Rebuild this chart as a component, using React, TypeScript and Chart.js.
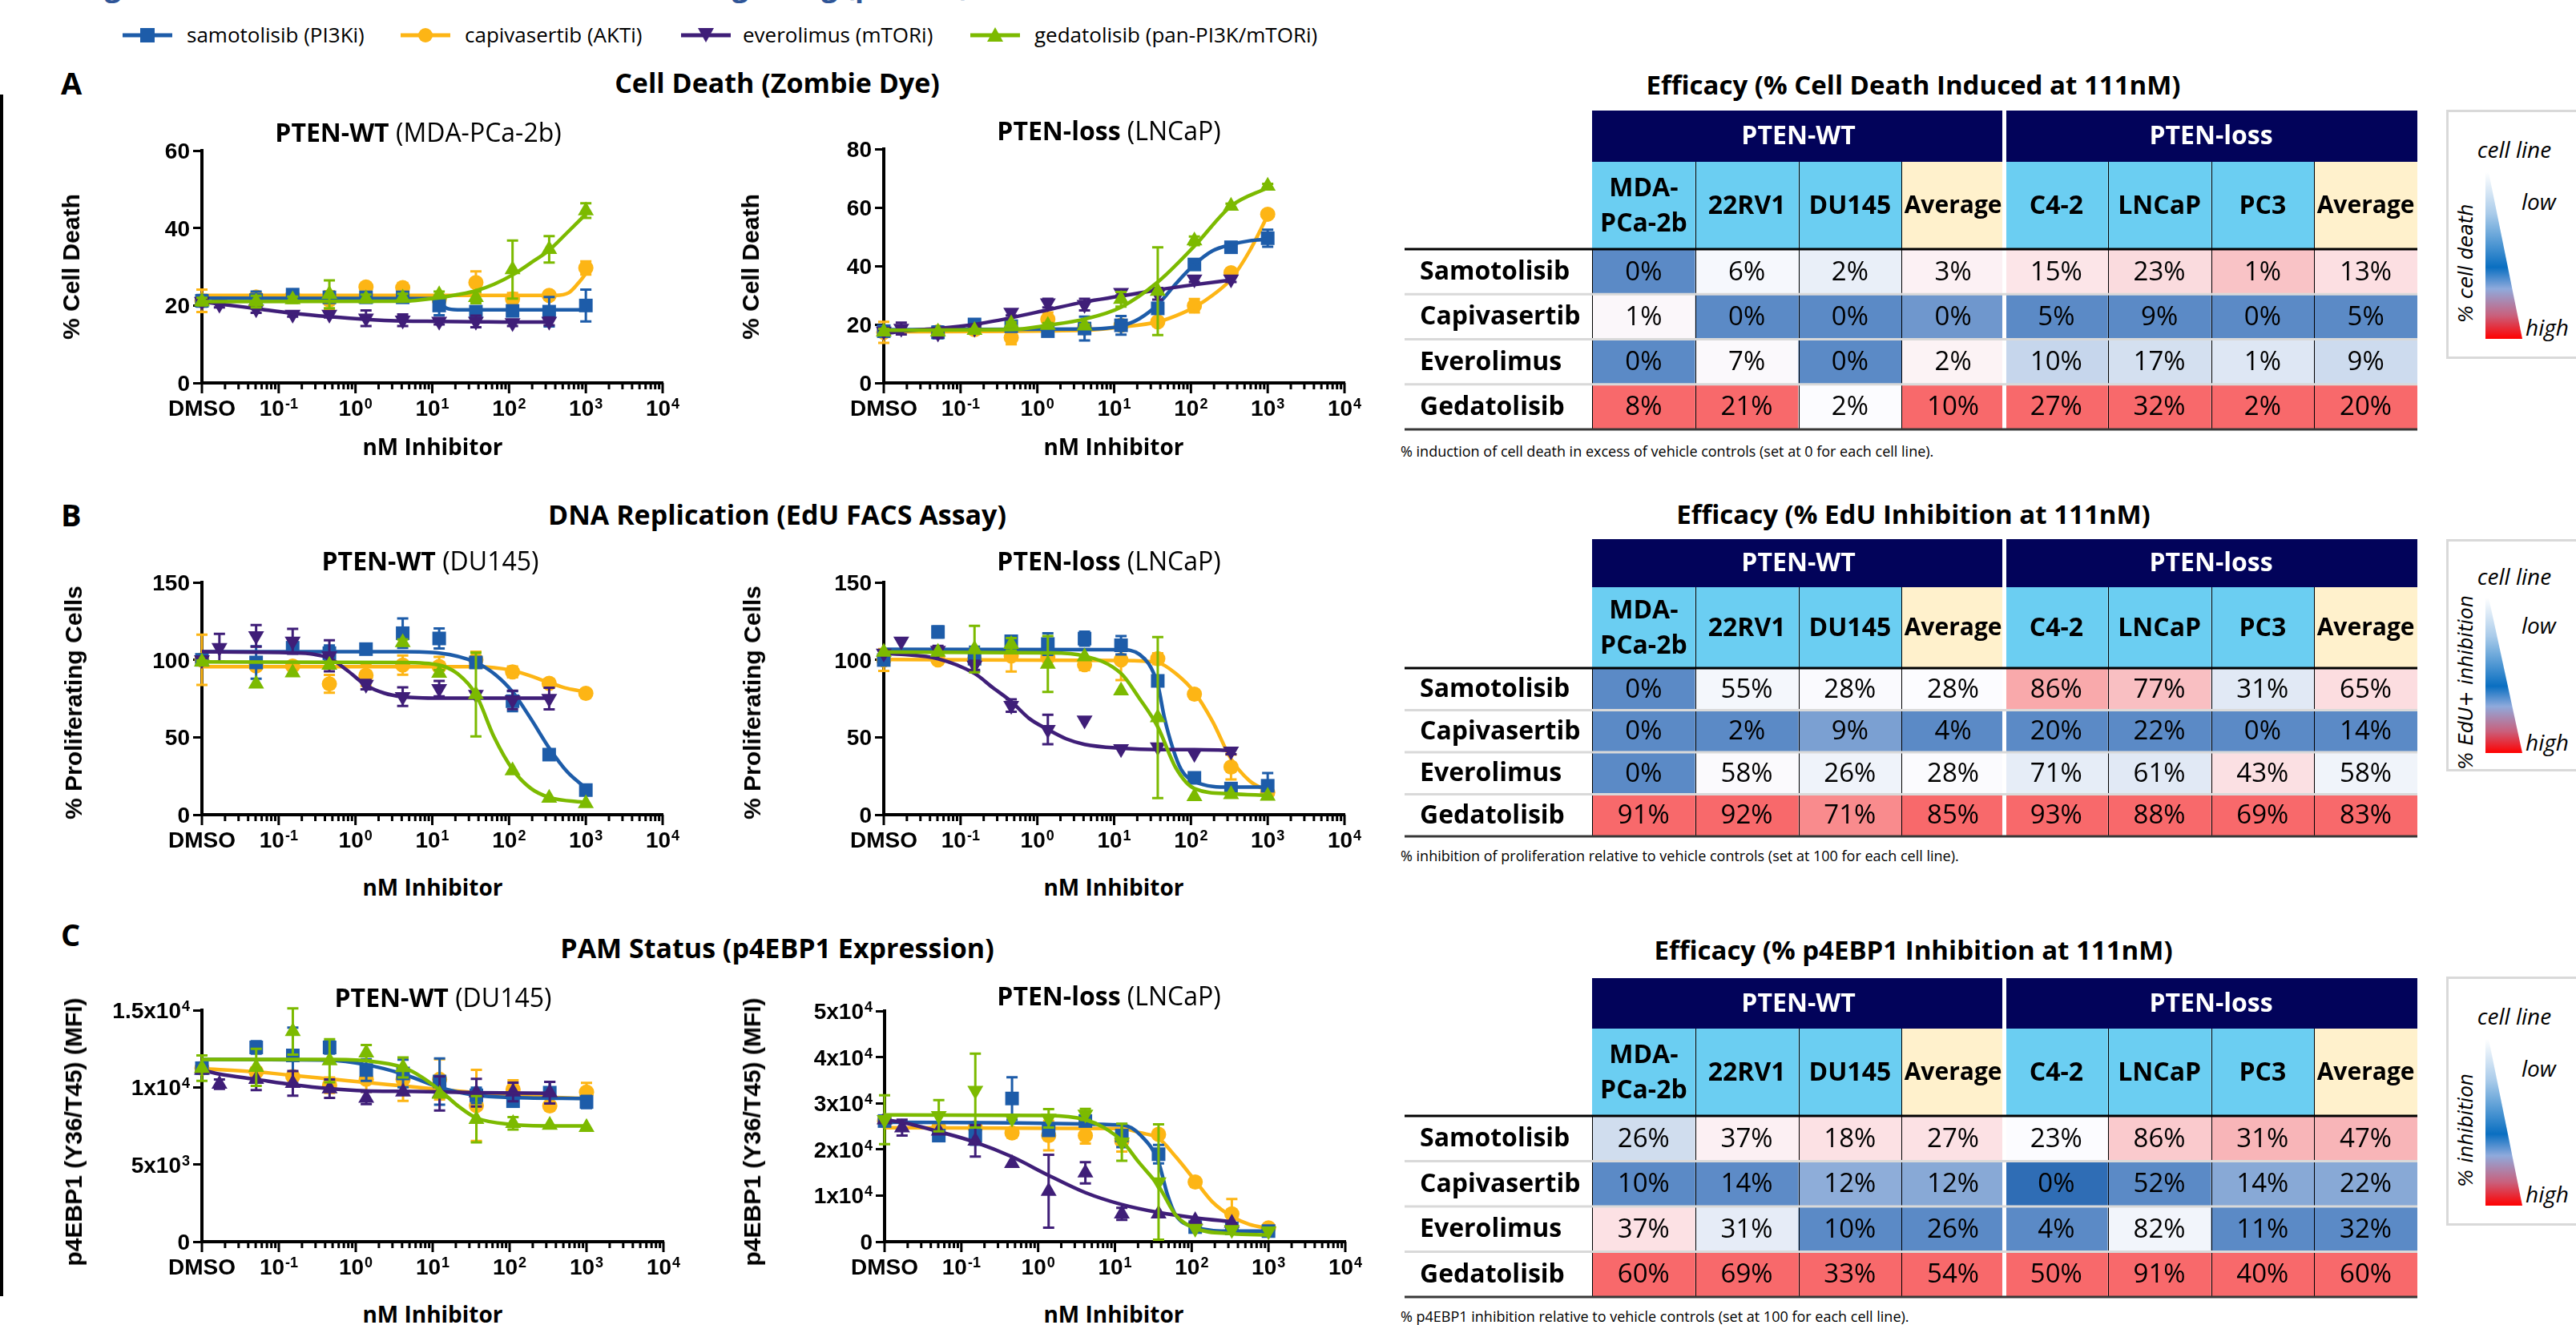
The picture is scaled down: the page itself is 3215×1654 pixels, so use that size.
import React, { useEffect, useRef } from 'react';
import { Chart, registerables } from 'chart.js';
Chart.register(...registerables);

// ---------------- data ----------------
// doses in nM; the first entry is the vehicle (DMSO) plotted at the axis origin (10^-2)
const DOSES = [0.01, 0.0169, 0.0508, 0.152, 0.457, 1.37, 4.12, 12.3, 37, 111, 333, 1000];
const DRUG_LABELS = ['samotolisib (PI3Ki)', 'capivasertib (AKTi)', 'everolimus (mTORi)', 'gedatolisib (pan-PI3K/mTORi)'];
const X_TICK_VALUES = [0.01, 0.1, 1, 10, 100, 1000, 10000];
const X_TICK_LABELS = [['DMSO', ''], ['10', '-1'], ['10', '0'], ['10', '1'], ['10', '2'], ['10', '3'], ['10', '4']];

// order of inner arrays: samotolisib, capivasertib, everolimus, gedatolisib
const A1_MEANS = [
  [21.2, null, 21.4, 22.8, 22.1, 22.1, 22.1, 20.0, 18.4, 18.6, 18.4, 20.0],
  [21.2, null, 22.2, 22.5, 21.4, 24.8, 24.6, 21.5, 25.9, 21.7, 22.6, 29.7],
  [21.0, 20.3, 19.1, 17.7, 17.7, 16.7, 16.2, 15.9, 15.9, 15.5, 15.9, null],
  [21.0, null, 21.0, 21.5, 22.9, 21.8, 22.0, 22.8, 22.1, 29.3, 34.5, 44.5],
];
const A1_ERRS = [
  [1.5, null, 2.2, 1.0, 1.2, 1.2, 1.0, 2.5, 1.2, 1.2, 3.8, 4.1],
  [2.9, null, 0.8, 0.8, 2.3, 0.8, 1.2, 0.8, 2.9, 1.5, 0.5, 1.7],
  [0.5, 0.8, 1.0, 0.6, 0.8, 2.0, 1.5, 0.8, 1.5, 0.8, 1.0, null],
  [1.0, null, 1.5, 0.8, 3.6, 1.0, 1.0, 0.8, 1.5, 7.5, 3.4, 1.9],
];
const A1_CURVES = [
  [[0.01, 21.9], [10, 21.8], [12.3, 21.2], [15, 19.4], [21.4, 18.9], [1000, 18.9]],
  [[0.01, 22.6], [400, 22.6], [600, 23.3], [800, 25.8], [1000, 28.2]],
  [[0.01, 21.0], [0.0169, 20.4], [0.0508, 19.2], [0.152, 18.0], [0.457, 17.1], [1.37, 16.4], [4.12, 16.0], [12.3, 15.9], [37, 15.8], [111, 15.7], [333, 15.7]],
  [[0.01, 21.0], [4.12, 21.1], [12.3, 22.0], [21.4, 22.8], [37, 23.8], [64, 25.5], [111, 27.9], [192, 31.0], [333, 34.3], [577, 38.9], [1000, 43.6]],
];

const A2_MEANS = [
  [17.7, null, 17.3, 20.0, 19.4, 17.7, 18.6, 19.7, 25.5, 40.5, 46.4, 49.5],
  [17.3, null, 17.5, 18.2, 15.5, 21.8, 18.8, 19.7, 20.9, 26.4, 37.7, 57.7],
  [17.7, 18.6, 17.0, 18.6, 24.1, 27.3, 26.8, 30.9, 30.5, 35.5, 35.5, null],
  [17.5, null, 17.5, 18.0, 20.3, 19.7, 19.5, 28.6, 31.4, 48.6, 60.5, 67.3],
];
const A2_ERRS = [
  [1.0, null, 2.0, 1.0, 1.0, 1.0, 4.1, 3.2, 1.5, 1.0, 1.0, 2.9],
  [3.6, null, null, null, 2.3, 2.3, 0.8, 1.0, 0.8, 2.3, 0.8, 0.8],
  [0.8, 2.0, 1.5, 0.8, 1.0, 1.5, 2.0, 1.0, 2.0, 1.0, 1.0, null],
  [1.0, null, 0.5, 0.5, 0.5, 0.8, 0.5, 2.5, 15.0, 1.5, 0.8, 0.8],
];
const A2_CURVES = [
  [[0.01, 18.2], [4.12, 18.4], [12.3, 19.5], [21.4, 22.0], [37, 26.8], [64, 34.0], [111, 40.5], [192, 45.2], [333, 47.3], [577, 48.6], [1000, 49.1]],
  [[0.01, 17.5], [4.12, 18.0], [12.3, 19.1], [37, 20.9], [64, 23.0], [111, 25.9], [192, 30.0], [333, 35.5], [577, 45.0], [1000, 57.3]],
  [[0.01, 16.8], [0.0169, 17.7], [0.0508, 18.6], [0.152, 20.0], [0.457, 22.3], [1.37, 25.0], [4.12, 27.7], [12.3, 29.7], [37, 31.8], [111, 33.6], [333, 35.2]],
  [[0.01, 18.0], [0.457, 18.2], [1.37, 19.7], [4.12, 21.8], [12.3, 25.9], [37, 34.5], [111, 46.8], [333, 60.5], [1000, 66.8]],
];

const B1_MEANS = [
  [100, null, 98.3, 107.8, 104.3, 106.9, 117.2, 113.8, 98.3, 73.3, 38.8, 15.9],
  [100, null, 96.0, 96.0, 84.5, 90.0, 96.6, 95.7, 100, 92.2, 84.8, 78.4],
  [100, 107.8, 115.5, 112, 102.6, 84, 76.2, 81.4, 77.6, 74.1, 75.0, null],
  [98.6, null, 84.5, 91.7, 96.6, null, 111.2, 91.4, 77.6, 28.4, 10.7, 7.2],
];
const B1_ERRS = [
  [2, null, 10.5, 3, 5, 3, 9.5, 6.5, 3, 6.5, 2, 2],
  [16.2, null, null, null, 5.8, 6.9, 6.2, 6.2, 5.2, 3.5, 1, 1],
  [null, 9, 7, 8, 10, 3, 6, 5, 2, 6, 7, null],
  [1, null, null, null, null, null, 2, 2, 27, null, null, null],
];
const B1_CURVES = [
  [[0.01, 105.2], [4.12, 105.2], [12.3, 104.3], [37, 98.3], [64, 91], [111, 79.3], [192, 62], [333, 43.1], [577, 27.5], [1000, 17.2]],
  [[0.01, 95.5], [37, 95.5], [111, 93.1], [192, 89.5], [333, 85.3], [577, 81.5], [1000, 79.3]],
  [[0.01, 105.2], [0.152, 104.5], [0.457, 101], [0.79, 93], [1.37, 83.6], [2.37, 78.5], [4.12, 76.2], [12.3, 75.3], [333, 75.3]],
  [[0.01, 98.6], [4.12, 98.3], [12.3, 96.6], [21.4, 91], [37, 77.6], [64, 50], [111, 29.3], [192, 17], [333, 11.2], [1000, 7.8]],
];

const B2_MEANS = [
  [99.9, null, 118, 100.7, 112, 110.2, 113.7, 109.4, 86.4, 23.8, 16.9, 18.7],
  [99.9, null, 100, 100, 102.5, 101.6, 96.8, 99.9, 100.7, 77.8, 30.8, 14.3],
  [104.2, 112, 106, 96.5, 70.5, 55.0, 61.0, 42.5, 43.7, 39.4, 41.0, null],
  [105, null, 105, 107, 110, 97.3, 102, 80, 62.7, 11.8, 13, 12],
];
const B2_ERRS = [
  [1.5, null, 3.5, 7.8, 3, 7, 4.5, 6, 2, 2, 2, 8.2],
  [7, null, null, null, 10, 5, 3.5, 13, 3.5, 1, 8, 1],
  [null, null, 3, 3, 4, 9.5, null, null, null, null, 2, null],
  [null, null, null, 15, 4, 18, null, null, 52, null, null, null],
];
const B2_CURVES = [
  [[0.01, 106.8], [12.3, 106.5], [21.4, 103.5], [37, 84], [45, 63], [58, 43], [75, 29], [111, 21.5], [333, 17.8], [1000, 17.8]],
  [[0.01, 100.2], [12.3, 99.6], [37, 98.2], [64, 91], [111, 79.1], [192, 60.1], [333, 36], [577, 22], [1000, 15.2]],
  [[0.01, 104.2], [0.0169, 103.6], [0.0508, 100.7], [0.152, 91.2], [0.264, 82], [0.457, 73.1], [0.79, 62], [1.37, 55], [2.37, 49], [4.12, 45.4], [12.3, 42.9], [37, 42], [111, 42], [333, 41.5]],
  [[0.01, 105], [1.37, 104.5], [4.12, 102.5], [12.3, 91.2], [21.4, 75], [37, 56.7], [64, 30], [111, 16.9], [333, 13.5], [1000, 12.6]],
];

const C1_MEANS = [
  [11241, null, 12586, 12068, 12586, 11120, 10900, 10379, 9482, 9103, 9655, 9051],
  [11241, null, 11000, 10700, 10138, 10517, 10517, 10517, 8827, 9862, 8793, 9689],
  [11120, 10206, 10517, 10258, 9913, 9310, 9700, 9600, 9655, 9700, 9655, null],
  [11241, null, 11300, 13620, 11724, 12241, 11292, 9569, 7931, 7672, 7551, 7413],
];
const C1_ERRS = [
  [300, null, 400, 1800, 400, 700, 900, 1500, 500, 300, 700, 400],
  [200, null, null, null, 500, 800, 1400, 1300, 2300, 600, 200, 600],
  [null, 300, 700, 800, 600, 400, null, 1100, 900, 600, 700, null],
  [820, null, 1200, 1500, 1400, 500, 650, null, 1500, 400, null, null],
];
const C1_CURVES = [
  [[0.01, 11810], [0.457, 11760], [1.37, 11465], [4.12, 10862], [12.3, 10000], [37, 9482], [111, 9344], [1000, 9275]],
  [[0.01, 11206], [0.0508, 11000], [0.152, 10775], [0.457, 10550], [1.37, 10310], [4.12, 10090], [12.3, 9862], [37, 9655], [111, 9482], [333, 9360], [1000, 9275]],
  [[0.01, 11120], [0.0169, 10862], [0.0508, 10517], [0.152, 10172], [0.457, 9913], [1.37, 9775], [4.12, 9741], [12.3, 9707], [37, 9655], [333, 9620]],
  [[0.01, 11810], [0.457, 11810], [1.37, 11724], [4.12, 11292], [7.1, 10690], [12.3, 9827], [21.4, 8790], [37, 8017], [111, 7586], [333, 7500], [1000, 7500]],
];

const C2_MEANS = [
  [26149, null, 22988, 22988, 31034, 24137, 26149, 22988, 18965, 3161, 2874, 2299],
  [26149, null, 24700, 24700, 23563, 22988, 22988, 21839, 23276, 12931, 6034, 2989],
  [26437, 24712, 24000, 21839, 16954, 10919, 14942, 6034, 6034, 4598, 4023, null],
  [26437, null, 27299, 32758, 26724, 26724, 27586, 21551, 12931, 2874, 2600, 2299],
];
const C2_ERRS = [
  [800, null, 500, 2000, 4600, 1000, 1000, 2500, 2000, 500, 500, 500],
  [null, null, null, null, 1000, 3200, 1700, 2300, null, null, 3200, null],
  [null, 1700, null, 3400, null, 7900, 2300, 1300, null, null, null, null],
  [5300, null, 3400, 8000, null, 2000, 1200, 4000, 12500, null, null, null],
];
const C2_CURVES = [
  [[0.01, 25862], [12.3, 25287], [21.8, 23000], [37, 17241], [48, 10345], [62, 5747], [111, 3161], [333, 2300], [1000, 2300]],
  [[0.01, 24712], [12.3, 24540], [21.8, 23563], [37, 22413], [62, 18390], [111, 13218], [186, 8620], [333, 5460], [562, 3736], [1000, 2874]],
  [[0.01, 26437], [0.0169, 25862], [0.0508, 23850], [0.152, 21551], [0.457, 18390], [1.37, 14367], [4.12, 10632], [12.3, 8046], [37, 6322], [111, 5172], [333, 4310]],
  [[0.01, 27471], [1.37, 27356], [4.12, 26437], [7.2, 24712], [12.3, 21839], [20.4, 17241], [37, 12069], [62, 5747], [111, 2874], [333, 1724], [1000, 1437]],
];

const A1_YLABELS = [['0', ''], ['20', ''], ['40', ''], ['60', '']];
const A2_YLABELS = [['0', ''], ['20', ''], ['40', ''], ['60', ''], ['80', '']];
const B_YLABELS = [['0', ''], ['50', ''], ['100', ''], ['150', '']];
const C1_YLABELS = [['0', ''], ['5x10', '3'], ['1x10', '4'], ['1.5x10', '4']];
const C2_YLABELS = [['0', ''], ['1x10', '4'], ['2x10', '4'], ['3x10', '4'], ['4x10', '4'], ['5x10', '4']];

// tables
const TABLE_GROUPS = ['PTEN-WT', 'PTEN-loss'];
const TABLE_COLS = [['MDA-', 'PCa-2b'], ['22RV1'], ['DU145'], ['Average'], ['C4-2'], ['LNCaP'], ['PC3'], ['Average']];
const TABLE_ROWS = ['Samotolisib', 'Capivasertib', 'Everolimus', 'Gedatolisib'];
const DEATH_VALUES = [[0, 6, 2, 3, 15, 23, 1, 13], [1, 0, 0, 0, 5, 9, 0, 5], [0, 7, 0, 2, 10, 17, 1, 9], [8, 21, 2, 10, 27, 32, 2, 20]];
const EDU_VALUES = [[0, 55, 28, 28, 86, 77, 31, 65], [0, 2, 9, 4, 20, 22, 0, 14], [0, 58, 26, 28, 71, 61, 43, 58], [91, 92, 71, 85, 93, 88, 69, 83]];
const P4EBP1_VALUES = [[26, 37, 18, 27, 23, 86, 31, 47], [10, 14, 12, 12, 0, 52, 14, 22], [37, 31, 10, 26, 4, 82, 11, 32], [60, 69, 33, 54, 50, 91, 40, 60]];

// ---------------- styles ----------------
const OPEN = "'Open Sans', 'Noto Sans', sans-serif";
const ARIAL = "'Liberation Sans', Arial, sans-serif";
const COLORS = ['#1D5CA9', '#FDB515', '#3F1E78', '#7CBA00'];
const DRAW_ORDER = [3, 2, 0, 1];
const SH_RECT = { style: 'rect', rot: 0, r: 12 };
const SH_CIRC = { style: 'circle', rot: 0, r: 9.5 };
const SH_DOWN = { style: 'triangle', rot: 180, r: 11.5 };
const SH_UP = { style: 'triangle', rot: 0, r: 11.5 };
const SHAPES_AB = [SH_RECT, SH_CIRC, SH_DOWN, SH_UP];
const SHAPES_C1 = [SH_RECT, SH_CIRC, SH_UP, SH_UP];
const SHAPES_C2 = [SH_RECT, SH_CIRC, SH_UP, SH_DOWN];

const NAVY = '#02035A';
const LIGHT_BLUE = '#6BCEF2';
const CREAM = '#FFF1CC';
const BL = '#5B8AC6';
const RD = '#F8696B';
const DEATH_COLORS = [
  [BL, '#F6F8FD', '#E9EFF8', '#FCF1F4', '#FCE5E8', '#FADBDE', '#F9C3C6', '#FCDFE2'],
  ['#FBF7FA', BL, BL, '#6F97CD', BL, BL, BL, BL],
  [BL, '#FBF9FC', BL, '#FCF3F5', '#C6D6EC', '#D4E0F0', '#DEE7F4', '#CDDBEE'],
  [RD, RD, '#FCFCFF', RD, RD, RD, RD, RD],
];
const EDU_COLORS = [
  [BL, '#F4F7FC', '#FAFAFE', '#FCFCFF', '#F9A9AB', '#F9BFC2', '#E1E9F5', '#FCDDE0'],
  [BL, BL, '#7BA0D2', BL, BL, BL, BL, BL],
  [BL, '#FBFAFD', '#EFF3FA', '#FBFBFE', '#E6EDF7', '#E1E9F5', '#FBE0E3', '#F0F4FA'],
  [RD, RD, '#F98B8D', RD, RD, RD, RD, RD],
];
const P4_COLORS = [
  ['#D0DDEE', '#FCF0F3', '#FCE1E4', '#FCE1E4', '#FCFCFF', '#FACACD', '#F8B5B8', '#F8B5B8'],
  [BL, '#5D8BC7', '#8EADD9', '#88A9D6', '#2F6DB5', BL, '#88A9D6', '#88A9D6'],
  ['#FCE1E4', '#E6ECF7', BL, BL, BL, '#F2F5FB', BL, BL],
  [RD, RD, RD, RD, RD, RD, RD, RD],
];

const PANELS = [
  { L: 100, T: 140, W: 770, H: 400, pl: 252, pr: 827, pt: 188, pb: 478, yMax: 60, yStep: 20, yLabels: A1_YLABELS, means: A1_MEANS, errs: A1_ERRS, curves: A1_CURVES, shapes: SHAPES_AB,
    title: ['PTEN-WT', '(MDA-PCa-2b)'], tx: 522, ty: 165, yTitle: '% Cell Death', ytx: 89, yty: 333, nx: 540, ny: 557 },
  { L: 950, T: 140, W: 770, H: 400, pl: 1103, pr: 1678, pt: 186, pb: 478, yMax: 80, yStep: 20, yLabels: A2_YLABELS, means: A2_MEANS, errs: A2_ERRS, curves: A2_CURVES, shapes: SHAPES_AB,
    title: ['PTEN-loss', '(LNCaP)'], tx: 1384, ty: 163, yTitle: '% Cell Death', ytx: 937, yty: 333, nx: 1390, ny: 557 },
  { L: 100, T: 680, W: 770, H: 385, pl: 252, pr: 827, pt: 727, pb: 1017, yMax: 150, yStep: 50, yLabels: B_YLABELS, means: B1_MEANS, errs: B1_ERRS, curves: B1_CURVES, shapes: SHAPES_AB,
    title: ['PTEN-WT', '(DU145)'], tx: 537, ty: 700, yTitle: '% Proliferating Cells', ytx: 92, yty: 877, nx: 540, ny: 1107 },
  { L: 950, T: 680, W: 770, H: 385, pl: 1103, pr: 1678, pt: 727, pb: 1017, yMax: 150, yStep: 50, yLabels: B_YLABELS, means: B2_MEANS, errs: B2_ERRS, curves: B2_CURVES, shapes: SHAPES_AB,
    title: ['PTEN-loss', '(LNCaP)'], tx: 1384, ty: 700, yTitle: '% Proliferating Cells', ytx: 939, yty: 877, nx: 1390, ny: 1107 },
  { L: 100, T: 1213, W: 770, H: 390, pl: 252, pr: 828, pt: 1261, pb: 1550, yMax: 15000, yStep: 5000, yLabels: C1_YLABELS, means: C1_MEANS, errs: C1_ERRS, curves: C1_CURVES, shapes: SHAPES_C1,
    title: ['PTEN-WT', '(DU145)'], tx: 553, ty: 1245, yTitle: 'p4EBP1 (Y36/T45) (MFI)', ytx: 92, yty: 1413, nx: 540, ny: 1640 },
  { L: 950, T: 1213, W: 770, H: 390, pl: 1104, pr: 1679, pt: 1262, pb: 1550, yMax: 50000, yStep: 10000, yLabels: C2_YLABELS, means: C2_MEANS, errs: C2_ERRS, curves: C2_CURVES, shapes: SHAPES_C2,
    title: ['PTEN-loss', '(LNCaP)'], tx: 1384, ty: 1243, yTitle: 'p4EBP1 (Y36/T45) (MFI)', ytx: 939, yty: 1413, nx: 1390, ny: 1640 },
];

const TABLES = [
  { values: DEATH_VALUES, colors: DEATH_COLORS, navyTop: 138, subTop: 202, dataTop: 311, dataBottom: 536, title: 'Efficacy (% Cell Death Induced at 111nM)', titleY: 105,
    note: '% induction of cell death in excess of vehicle controls (set at 0 for each cell line).', noteY: 563,
    legTop: 137, legH: 311, legLabel: '% cell death' },
  { values: EDU_VALUES, colors: EDU_COLORS, navyTop: 673, subTop: 733, dataTop: 834, dataBottom: 1044, title: 'Efficacy (% EdU Inhibition at 111nM)', titleY: 641,
    note: '% inhibition of proliferation relative to vehicle controls (set at 100 for each cell line).', noteY: 1068,
    legTop: 673, legH: 290, legLabel: '% EdU+ inhibition' },
  { values: P4EBP1_VALUES, colors: P4_COLORS, navyTop: 1221, subTop: 1284, dataTop: 1393, dataBottom: 1619, title: 'Efficacy (% p4EBP1 Inhibition at 111nM)', titleY: 1185,
    note: '% p4EBP1 inhibition relative to vehicle controls (set at 100 for each cell line).', noteY: 1643,
    legTop: 1219, legH: 311, legLabel: '% inhibition' },
];

// ---------------- helpers ----------------
const MAIN_FONT = `bold 28px ${ARIAL}`;
const SUP_FONT = `bold 18px ${ARIAL}`;

function drawSupLabel(ctx: any, main: string, sup: string, x: number, baseline: number, align: string) {
  ctx.font = MAIN_FONT;
  const w1 = ctx.measureText(main).width;
  ctx.font = SUP_FONT;
  const w2 = sup ? ctx.measureText(sup).width + 1 : 0;
  const total = w1 + w2;
  const x0 = align === 'center' ? x - total / 2 : x - total;
  ctx.textAlign = 'left';
  ctx.textBaseline = 'alphabetic';
  ctx.fillStyle = '#000';
  ctx.font = MAIN_FONT;
  ctx.fillText(main, x0, baseline);
  if (sup) {
    ctx.font = SUP_FONT;
    ctx.fillText(sup, x0 + w1 + 1, baseline - 9);
  }
}

function makeAxisPlugin(p: any) {
  return {
    id: 'doseAxes',
    afterDraw(chart: any) {
      const ctx = chart.ctx;
      const xs = chart.scales.x;
      const ys = chart.scales.y;
      const ca = chart.chartArea;
      ctx.save();
      ctx.strokeStyle = '#000';
      ctx.lineWidth = 3;
      for (let k = -2; k <= 3; k++) {
        for (let m = 1; m <= 9; m++) {
          const px = xs.getPixelForValue(m * Math.pow(10, k));
          const len = m === 1 ? 13 : 8;
          ctx.beginPath();
          ctx.moveTo(px, ca.bottom);
          ctx.lineTo(px, ca.bottom + len);
          ctx.stroke();
        }
      }
      const pend = xs.getPixelForValue(10000);
      ctx.beginPath();
      ctx.moveTo(pend, ca.bottom);
      ctx.lineTo(pend, ca.bottom + 13);
      ctx.stroke();
      X_TICK_VALUES.forEach((v, i) => {
        const px = xs.getPixelForValue(v);
        drawSupLabel(ctx, X_TICK_LABELS[i][0], X_TICK_LABELS[i][1], px, ca.bottom + 41, 'center');
      });
      ys.ticks.forEach((t: any, i: number) => {
        const lab = p.yLabels[i];
        if (!lab) return;
        const py = ys.getPixelForValue(t.value);
        drawSupLabel(ctx, lab[0], lab[1], ca.left - 15, py + 10, 'right');
      });
      ctx.restore();
    },
  };
}

const errorBarPlugin = {
  id: 'errorBars',
  beforeDatasetDraw(chart: any, args: any) {
    const ds = chart.data.datasets[args.index];
    if (!ds.errors) return;
    const meta = chart.getDatasetMeta(args.index);
    const ys = chart.scales.y;
    const ctx = chart.ctx;
    ctx.save();
    ctx.strokeStyle = ds.borderColor;
    ctx.lineWidth = 3;
    meta.data.forEach((el: any, i: number) => {
      const e = ds.errors[i];
      if (!e) return;
      const v = ds.data[i].y;
      const y1 = ys.getPixelForValue(v + e);
      const y2 = ys.getPixelForValue(Math.max(v - e, 0));
      const x = el.x;
      ctx.beginPath();
      ctx.moveTo(x, y1); ctx.lineTo(x, y2);
      ctx.moveTo(x - 7, y1); ctx.lineTo(x + 7, y1);
      ctx.moveTo(x - 7, y2); ctx.lineTo(x + 7, y2);
      ctx.stroke();
    });
    ctx.restore();
  },
};

function DoseChart({ p }: any) {
  const ref = useRef<HTMLCanvasElement>(null);
  useEffect(() => {
    const datasets: any[] = [];
    DRAW_ORDER.forEach((d) => {
      datasets.push({
        data: p.curves[d].map((c: number[]) => ({ x: c[0], y: c[1] })),
        showLine: true,
        borderColor: COLORS[d],
        borderWidth: 4.5,
        pointRadius: 0,
        cubicInterpolationMode: 'monotone',
        fill: false,
        clip: false,
      });
      const pts: any[] = [];
      const errs: any[] = [];
      DOSES.forEach((x, i) => {
        const m = p.means[d][i];
        if (m !== null && m !== undefined) {
          pts.push({ x, y: m });
          errs.push(p.errs[d][i]);
        }
      });
      const sh = p.shapes[d];
      datasets.push({
        data: pts,
        errors: errs,
        showLine: false,
        pointStyle: sh.style,
        rotation: sh.rot,
        pointRadius: sh.r,
        backgroundColor: COLORS[d],
        borderColor: COLORS[d],
        borderWidth: 0,
        clip: false,
      });
    });
    const chart = new Chart(ref.current as any, {
      type: 'scatter',
      data: { datasets },
      options: {
        responsive: false,
        animation: false,
        events: [],
        layout: { padding: { top: p.pt - p.T, right: p.L + p.W - p.pr, left: 0, bottom: 0 } },
        plugins: { legend: { display: false }, tooltip: { enabled: false } },
        scales: {
          x: {
            type: 'logarithmic', min: 0.01, max: 10000,
            ticks: { display: false },
            grid: { display: false },
            border: { display: true, width: 4, color: '#000' },
            afterFit: (s: any) => { s.height = p.T + p.H - p.pb; },
          },
          y: {
            type: 'linear', min: 0, max: p.yMax,
            ticks: { display: false, stepSize: p.yStep },
            grid: { display: true, drawOnChartArea: false, drawTicks: true, tickLength: 11, tickWidth: 3, color: '#000' },
            border: { display: true, width: 4, color: '#000' },
            afterFit: (s: any) => { s.width = p.pl - p.L; },
          },
        },
      } as any,
      plugins: [errorBarPlugin, makeAxisPlugin(p)],
    });
    return () => chart.destroy();
  }, []);
  return <canvas ref={ref} width={p.W} height={p.H} style={{ position: 'absolute', left: p.L, top: p.T, width: p.W, height: p.H }} />;
}

const TBL_LEFT = 1745;
const TBL_RIGHT = 3030;

function makeTablePlugin(t: any, cTop: number) {
  return {
    id: 'tableDraw',
    beforeDatasetsDraw(chart: any) {
      const ctx = chart.ctx;
      const xs = chart.scales.x;
      const ys = chart.scales.y;
      const ca = chart.chartArea;
      const cw = xs.getPixelForValue(1) - xs.getPixelForValue(0);
      const rh = ys.getPixelForValue(1) - ys.getPixelForValue(0);
      const colL = (c: number) => xs.getPixelForValue(c) - cw / 2;
      const rowT = (r: number) => ys.getPixelForValue(r) - rh / 2;
      const navyTop = t.navyTop - cTop;
      const subTop = t.subTop - cTop;
      ctx.save();
      chart.data.datasets.forEach((ds: any) => {
        ds.data.forEach((pt: any, c: number) => {
          ctx.fillStyle = ds.cellColors[c];
          ctx.fillRect(xs.getPixelForValue(pt.x) - cw / 2, ys.getPixelForValue(pt.y) - rh / 2, cw, rh);
        });
      });
      ctx.fillStyle = NAVY;
      ctx.fillRect(colL(0), navyTop, cw * 8, subTop - navyTop);
      TABLE_COLS.forEach((_: any, c: number) => {
        ctx.fillStyle = c === 3 || c === 7 ? CREAM : LIGHT_BLUE;
        ctx.fillRect(colL(c), subTop, cw, ca.top - subTop);
      });
      ctx.strokeStyle = '#000';
      ctx.lineWidth = 1;
      for (let c = 0; c < 8; c++) {
        if (c === 4) continue;
        const x = Math.round(colL(c)) + 0.5;
        ctx.beginPath();
        ctx.moveTo(x, c === 0 ? ca.top : subTop);
        ctx.lineTo(x, ca.bottom);
        ctx.stroke();
      }
      ctx.fillStyle = '#fff';
      ctx.fillRect(colL(4) - 3, navyTop, 5, ca.bottom - navyTop);
      const lineL = 1753 - TBL_LEFT;
      const lineR = ca.right;
      ctx.lineWidth = 3;
      ctx.strokeStyle = '#D9D9D9';
      for (let r = 1; r < 4; r++) {
        const y = rowT(r);
        ctx.beginPath(); ctx.moveTo(lineL, y); ctx.lineTo(lineR, y); ctx.stroke();
      }
      ctx.strokeStyle = '#000';
      ctx.beginPath(); ctx.moveTo(lineL, ca.top); ctx.lineTo(lineR, ca.top); ctx.stroke();
      ctx.strokeStyle = '#383838';
      ctx.beginPath(); ctx.moveTo(lineL, ca.bottom); ctx.lineTo(lineR, ca.bottom); ctx.stroke();

      ctx.textAlign = 'center';
      ctx.textBaseline = 'middle';
      ctx.fillStyle = '#fff';
      ctx.font = `bold 32px ${OPEN}`;
      const navyMid = (navyTop + subTop) / 2 + 1;
      ctx.fillText(TABLE_GROUPS[0], colL(0) + 2 * cw, navyMid);
      ctx.fillText(TABLE_GROUPS[1], colL(4) + 2 * cw, navyMid);
      ctx.fillStyle = '#000';
      const subMid = (subTop + ca.top) / 2 + 1;
      TABLE_COLS.forEach((lines: string[], c: number) => {
        const cx = colL(c) + cw / 2;
        ctx.font = lines[0] === 'Average' ? `bold 30px ${OPEN}` : `bold 32px ${OPEN}`;
        if (lines.length === 2) {
          ctx.fillText(lines[0], cx, subMid - 22);
          ctx.fillText(lines[1], cx, subMid + 22);
        } else {
          ctx.fillText(lines[0], cx, subMid);
        }
      });
      ctx.font = `33px ${OPEN}`;
      chart.data.datasets.forEach((ds: any) => {
        ds.data.forEach((pt: any) => {
          ctx.fillText(pt.v + '%', xs.getPixelForValue(pt.x), ys.getPixelForValue(pt.y) + 1);
        });
      });
      ctx.font = `bold 32px ${OPEN}`;
      ctx.textAlign = 'left';
      chart.data.datasets.forEach((ds: any, r: number) => {
        ctx.fillText(ds.label, 1772 - TBL_LEFT, ys.getPixelForValue(r) + 1);
      });
      ctx.restore();
    },
  };
}

function TableChart({ t }: any) {
  const ref = useRef<HTMLCanvasElement>(null);
  const cTop = t.navyTop - 4;
  const cH = t.dataBottom + 6 - cTop;
  const cW = TBL_RIGHT - TBL_LEFT;
  useEffect(() => {
    const chart = new Chart(ref.current as any, {
      type: 'scatter',
      data: {
        datasets: TABLE_ROWS.map((row, r) => ({
          label: row,
          data: t.values[r].map((v: number, c: number) => ({ x: c, y: r, v })),
          cellColors: t.colors[r],
          pointRadius: 0,
        })),
      },
      options: {
        responsive: false,
        animation: false,
        events: [],
        layout: { padding: { left: 1987 - TBL_LEFT, right: TBL_RIGHT - 3017, top: t.dataTop - cTop, bottom: cTop + cH - t.dataBottom } },
        plugins: { legend: { display: false }, tooltip: { enabled: false } },
        scales: {
          x: { type: 'linear', display: false, min: -0.5, max: 7.5 },
          y: { type: 'linear', display: false, min: -0.5, max: 3.5, reverse: true },
        },
      } as any,
      plugins: [makeTablePlugin(t, cTop)],
    });
    return () => chart.destroy();
  }, []);
  return <canvas ref={ref} width={cW} height={cH} style={{ position: 'absolute', left: TBL_LEFT, top: cTop, width: cW, height: cH }} />;
}

function Txt({ x, y, children, size, bold, italic, family, align, color, rotate }: any) {
  const tr = rotate ? 'translate(-50%,-50%) rotate(-90deg)' : align === 'left' ? 'translate(0,-50%)' : 'translate(-50%,-50%)';
  return (
    <div style={{
      position: 'absolute', left: x, top: y, transform: tr, whiteSpace: 'nowrap', lineHeight: 1,
      fontSize: size, fontWeight: bold ? 700 : 400, fontStyle: italic ? 'italic' : 'normal',
      fontFamily: family || OPEN, color: color || '#000',
    }}>{children}</div>
  );
}

function LegendMarker({ color, shape, x, y }: any) {
  return (
    <svg width={62} height={26} style={{ position: 'absolute', left: x - 31, top: y - 13 }}>
      <line x1={0} y1={13} x2={62} y2={13} stroke={color} strokeWidth={5} />
      {shape === 'rect' && <rect x={22} y={4} width={18} height={18} fill={color} />}
      {shape === 'circle' && <circle cx={31} cy={13} r={9} fill={color} />}
      {shape === 'down' && <polygon points="21,4 41,4 31,22" fill={color} />}
      {shape === 'up' && <polygon points="31,3 41,21 21,21" fill={color} />}
    </svg>
  );
}

const LEGEND_POS = [[184, 233], [531, 580], [881, 927], [1242, 1291]];
const LEGEND_SHAPES = ['rect', 'circle', 'down', 'up'];

function ScaleLegend({ top, h, label }: any) {
  const s = h / 311;
  return (
    <div style={{ position: 'absolute', left: 3053, top, width: 200, height: h, border: '3px solid #D9D9D9', boxSizing: 'border-box' }}>
      <Txt x={82} y={46 * s} size={28} italic>cell line</Txt>
      <Txt x={91} y={111 * s} size={28} italic align="left">low</Txt>
      <Txt x={96} y={268 * s} size={28} italic align="left">high</Txt>
      <div style={{
        position: 'absolute', left: 46, top: 75 * s, width: 46, height: 208 * s,
        background: 'linear-gradient(to bottom, #ffffff 0%, #A9CBEA 25%, #0A6FC1 57%, #8FAADC 70%, #C9607C 86%, #FF0000 100%)',
        clipPath: 'polygon(0 0, 4px 0, 100% 100%, 0 100%)',
      }} />
      <Txt x={22} y={189 * s} size={24} italic rotate family="'DejaVu Sans', sans-serif">{label}</Txt>
    </div>
  );
}

export default function App() {
  return (
    <div style={{ position: 'absolute', left: 0, top: 0, width: 3215, height: 1654, overflow: 'hidden', background: '#fff' }}>
      <div style={{ position: 'absolute', left: 100, top: -40, fontFamily: OPEN, fontWeight: 700, fontSize: 36, color: '#2F5597', whiteSpace: 'nowrap', lineHeight: 1.2 }}>
        Figure 4: Cell Death, Proliferation, and PAM Signaling (p4EBP1)
      </div>
      <div style={{ position: 'absolute', left: 0, top: 118, width: 4, height: 1500, background: '#000' }} />

      {DRUG_LABELS.map((lab, i) => (
        <React.Fragment key={lab}>
          <LegendMarker color={COLORS[i]} shape={LEGEND_SHAPES[i]} x={LEGEND_POS[i][0]} y={44} />
          <Txt x={LEGEND_POS[i][1]} y={43} size={26} align="left">{lab}</Txt>
        </React.Fragment>
      ))}

      <Txt x={76} y={103} size={38} bold align="left">A</Txt>
      <Txt x={76} y={642} size={38} bold align="left">B</Txt>
      <Txt x={76} y={1166} size={38} bold align="left">C</Txt>
      <Txt x={970} y={103} size={34} bold>Cell Death (Zombie Dye)</Txt>
      <Txt x={970} y={642} size={34} bold>DNA Replication (EdU FACS Assay)</Txt>
      <Txt x={970} y={1183} size={34} bold>PAM Status (p4EBP1 Expression)</Txt>

      {PANELS.map((p, i) => (
        <React.Fragment key={i}>
          <DoseChart p={p} />
          <Txt x={p.tx} y={p.ty} size={32}><b>{p.title[0]}</b> {p.title[1]}</Txt>
          <Txt x={p.ytx} y={p.yty} size={30} bold rotate family={ARIAL}>{p.yTitle}</Txt>
          <Txt x={p.nx} y={p.ny} size={28} bold>nM Inhibitor</Txt>
        </React.Fragment>
      ))}

      {TABLES.map((t, i) => (
        <React.Fragment key={i}>
          <Txt x={2388} y={t.titleY} size={33} bold>{t.title}</Txt>
          <TableChart t={t} />
          <Txt x={1748} y={t.noteY} size={18} align="left">{t.note}</Txt>
          <ScaleLegend top={t.legTop} h={t.legH} label={t.legLabel} />
        </React.Fragment>
      ))}
    </div>
  );
}
